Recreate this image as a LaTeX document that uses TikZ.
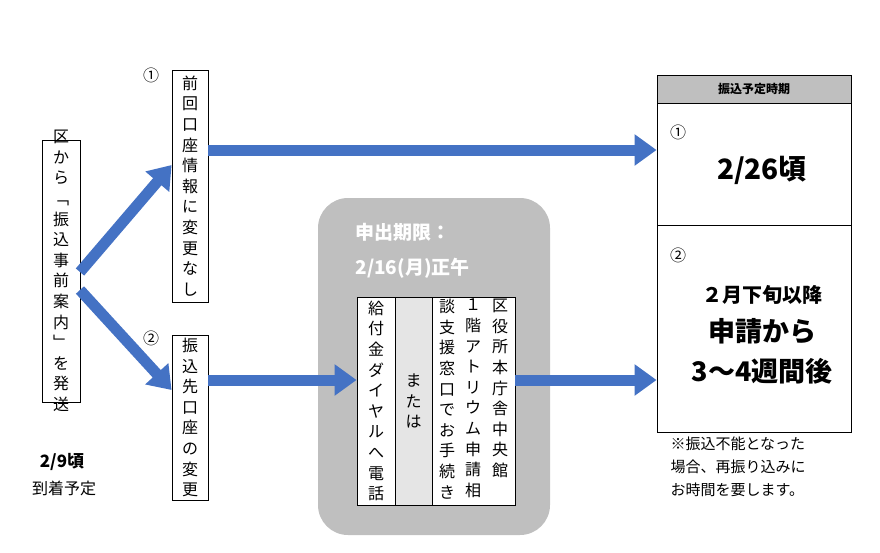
\documentclass[tikz,border=0pt]{standalone}
\usepackage{fontspec}
\setmainfont{Noto Sans CJK JP}
\usetikzlibrary{arrows.meta}
\definecolor{ablue}{HTML}{4472C4}
\begin{document}
\begin{tikzpicture}[x=1pt,y=-1pt,
 box/.style={draw=black,line width=0.8pt,fill=white,inner sep=0pt},
 vt/.style={font=\fontsize{16}{20.6}\selectfont,align=center,inner sep=0pt},
 arr/.style={draw=ablue,line width=11pt,-{Triangle[length=22pt,width=30pt]}},
 lbl/.style={font=\fontsize{16}{18}\selectfont,inner sep=0pt}]
\useasboundingbox (0,0) rectangle (880,552);
% left box
\node[box,minimum width=38pt,minimum height=262pt] (L) at (61,271) {};
\node[vt] at (61,271) {区\\か\\ら\\﹁\\振\\込\\事\\前\\案\\内\\﹂\\を\\発\\送};
\node[font=\bfseries\fontsize{17}{19}\selectfont] (d) at (62,462) {2/9頃};
\node[font=\fontsize{16}{18}\selectfont] (d2) at (64,488) {到着予定};
% box 1
\node[box,minimum width=36pt,minimum height=232pt] (B1) at (190,186) {};
\node[vt] at (190,186) {前\\回\\口\\座\\情\\報\\に\\変\\更\\な\\し};
\node[lbl] at (151,75) {①};
% box 2
\node[box,minimum width=36pt,minimum height=165pt] (B2) at (190,417.5) {};
\node[vt] at (190,417.5) {振\\込\\先\\口\\座\\の\\変\\更};
\node[lbl] at (151,338) {②};
% gray area
\node[fill=black!25,rounded corners=30pt,minimum width=232pt,minimum height=337pt,inner sep=0] (G) at (434,366.5) {};
\node[text=white,font=\bfseries\fontsize{19}{21}\selectfont,anchor=west] (g1) at (352,232) {申出期限：};
\node[text=white,font=\bfseries\fontsize{19}{21}\selectfont,anchor=west] (g2) at (352,268) {2/16(月)正午};
\node[box,minimum width=38pt,minimum height=208pt] (C1) at (376,401) {};
\node[vt] at (376,401) {給\\付\\金\\ダ\\イ\\ヤ\\ル\\へ\\電\\話};
\node[box,fill=black!10,minimum width=37pt,minimum height=208pt] (C2) at (413.5,401) {};
\node[vt] at (413.5,401) {ま\\た\\は};
\node[box,minimum width=83pt,minimum height=208pt] (C3) at (473.5,401) {};
\node[vt,anchor=north] at (500,299) {区\\役\\所\\本\\庁\\舎\\中\\央\\館};
\node[vt,anchor=north] at (473,299) {１\\階\\ア\\ト\\リ\\ウ\\ム\\申\\請\\相};
\node[vt,anchor=north] at (447,299) {談\\支\\援\\窓\\口\\で\\お\\手\\続\\き};
% right
\node[box,fill=black!25,minimum width=194pt,minimum height=28pt] (H) at (754,89) {};
\node[font=\bfseries\fontsize{12}{14}\selectfont] at (754,89) {振込予定時期};
\node[box,minimum width=194pt,minimum height=122pt] (R1) at (754,164) {};
\node[box,minimum width=194pt,minimum height=207pt] (R2) at (754,328.5) {};
\node[lbl] at (678,132) {①};
\node[font=\bfseries\fontsize{28}{30}\selectfont] at (762,170) {2/26頃};
\node[lbl] at (678,255) {②};
\node[font=\bfseries\fontsize{20}{22}\selectfont] at (762,295) {２月下旬以降};
\node[font=\bfseries\fontsize{27}{29}\selectfont] at (762,331) {申請から};
\node[font=\bfseries\fontsize{27}{29}\selectfont] at (762,371) {3〜4週間後};
\node[font=\fontsize{15}{23}\selectfont,align=left,anchor=north west] (note) at (667,433) {※振込不能となった\\場合、再振り込みに\\お時間を要します。};
% arrows
\coordinate (s) at (80,280);
\draw[arr] (80,272) -- (B1.west |- 0,165);
\draw[arr] (80,290) -- (B2.west |- 0,390);
\draw[arr] (B1.east |- 0,150) -- (R1.west |- 0,150);
\draw[arr] (B2.east |- 0,380) -- (C1.west |- 0,380);
\draw[arr] (C3.east |- 0,380) -- (R2.west |- 0,380);
\end{tikzpicture}
\end{document}
